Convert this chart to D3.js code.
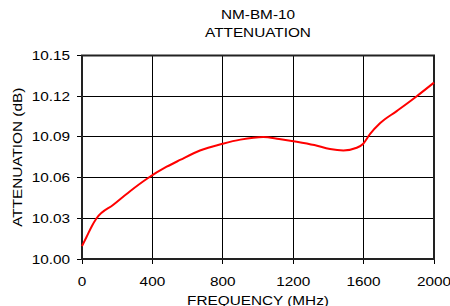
<!DOCTYPE html>
<html><head><meta charset="utf-8">
<script src="https://cdn.jsdelivr.net/npm/d3@7/dist/d3.min.js"></script>
<style>html,body{margin:0;padding:0;background:#fff;overflow:hidden}</style>
</head><body>
<script>
const titleLines = ["NM-BM-10", "ATTENUATION"];
const xLabel = "FREQUENCY (MHz)";
const yLabel = "ATTENUATION (dB)";
const xTicks = [0, 400, 800, 1200, 1600, 2000];
const yTicks = [10.00, 10.03, 10.06, 10.09, 10.12, 10.15];
const freq  = [0, 25, 55, 83, 178, 273, 367, 481, 557, 670, 800, 900, 1030, 1120, 1220, 1320, 1409, 1485, 1561, 1598, 1636, 1693, 1788, 1902, 2000];
const atten = [10.0095, 10.016, 10.024, 10.030, 10.040, 10.050, 10.059, 10.068, 10.073, 10.080, 10.085, 10.088, 10.090, 10.0885, 10.0865, 10.084, 10.081, 10.080, 10.082, 10.085, 10.092, 10.100, 10.109, 10.120, 10.130];

const W = 450, H = 306;
const m = {l: 82, r: 16, t: 55.5, b: 47};
const svg = d3.select("body").append("svg").attr("width", W).attr("height", H);
const x = d3.scaleLinear().domain([0, 2000]).range([m.l, W - m.r]);
const y = d3.scaleLinear().domain([10.00, 10.15]).range([H - m.b, m.t]);
const FONT = "'Liberation Sans', Arial, sans-serif";
const SX = 1.18;

function label(txt, px, py, anchor, rot) {
  svg.append("text")
    .attr("transform", `translate(${px},${py})` + (rot ? ` rotate(${rot})` : "") + ` scale(${SX},1)`)
    .attr("text-anchor", anchor)
    .attr("font-family", FONT).attr("font-size", 13).attr("fill", "#000")
    .text(txt);
}

// grid
const g = svg.append("g");
g.selectAll("line.vx").data(xTicks).join("line")
  .attr("x1", d => x(d)).attr("x2", d => x(d))
  .attr("y1", y(10.15)).attr("y2", y(10.00) + 5)
  .attr("stroke", "#000").attr("stroke-width", 1).attr("shape-rendering", "crispEdges");
g.selectAll("line.hy").data(yTicks).join("line")
  .attr("x1", x(0) - 5).attr("x2", x(2000))
  .attr("y1", d => y(d)).attr("y2", d => y(d))
  .attr("stroke", "#000").attr("stroke-width", 1).attr("shape-rendering", "crispEdges");
// border
svg.append("rect").attr("x", x(0)).attr("y", y(10.15))
  .attr("width", x(2000) - x(0)).attr("height", y(10.00) - y(10.15))
  .attr("fill", "none").attr("stroke", "#222").attr("stroke-width", 2);

// line
const line = d3.line().x((d, i) => x(freq[i])).y(d => y(d)).curve(d3.curveMonotoneX);
svg.append("path").datum(atten).attr("d", line)
  .attr("fill", "none").attr("stroke", "#ff0000").attr("stroke-width", 2);

// tick labels
yTicks.forEach(v => label(d3.format(".2f")(v), 70, y(v) + 4.5, "end"));
xTicks.forEach(v => label(String(v), x(v), 286, "middle"));

// titles
const cx = (x(0) + x(2000)) / 2;
label(titleLines[0], cx, 19, "middle");
label(titleLines[1], cx, 36.5, "middle");
label(xLabel, cx, 305, "middle");
label(yLabel, 22, (y(10) + y(10.15)) / 2, "middle", -90);
</script>
</body></html>
